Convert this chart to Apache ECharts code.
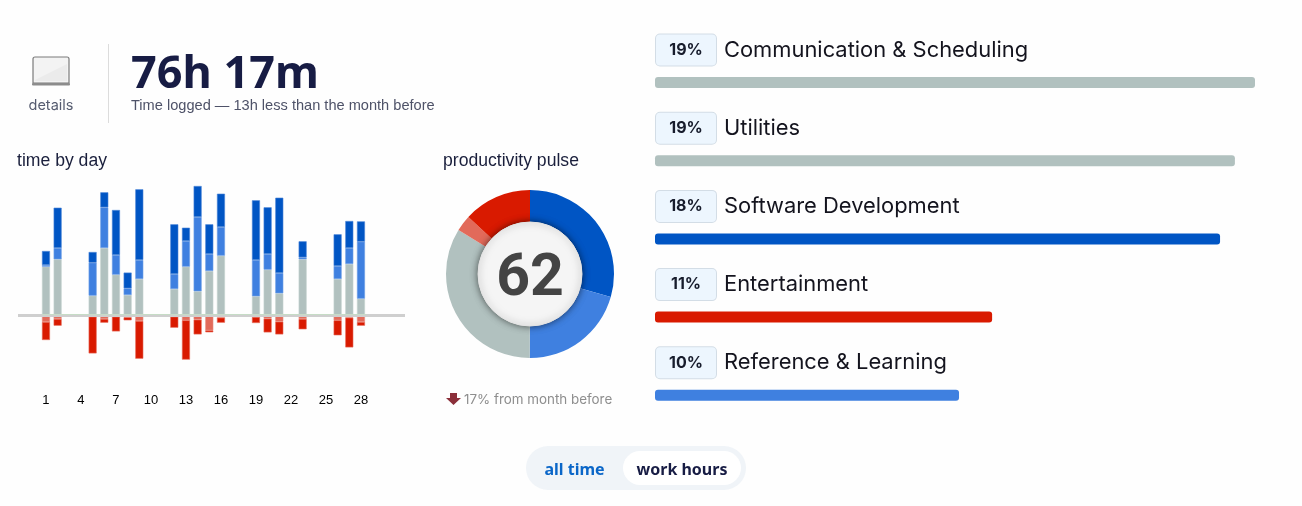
<!DOCTYPE html>
<html>
<head>
<meta charset="utf-8">
<style>html,body{margin:0;padding:0;background:#fff}#c{width:1302px;height:506px}</style>
<script src="https://cdn.jsdelivr.net/npm/echarts@6/dist/echarts.min.js"></script>
</head>
<body>
<div id="c"></div>
<script>
const days = [1,2,5,6,7,8,9,12,13,14,15,16,19,20,21,23,26,27,28];
const neutralTime  = [48.3,55.7,19.3,67,40.3,20,36,26,48.3,23.7,44,59.3,18.7,45.3,21.7,55.7,36,51,16.3];
const productive   = [1.7,11.3,33,40.7,19.7,6.7,19,15,25.7,74.3,17,28.7,36.3,15.7,20.3,2,13,16,57];
const veryProductive = [14,40.3,10.7,15,45,15.7,70.7,49.7,13.3,31,29.7,33.3,59.7,46.7,75.3,16,31.7,27,20.3];
const distracting  = [-7,-4,-1.7,-4,-1.7,-2.3,-6,-1.7,-5.3,-4.7,-15.3,-2.7,-2,-3.7,-6.7,-4,-5.3,-2.7,-7];
const veryDistracting = [-18,-6.7,-36.7,-3.7,-14.7,-3,-37.7,-11,-39.3,-14.7,-2,-5,-6,-13.7,-12.7,-10.3,-15,-29.7,-3.7];
const dayTicks = ['1','4','7','10','13','16','19','22','25','28'];

const pulseNames = ['Very productive','Productive','Neutral','Distracting','Very distracting'];
const pulseValues = [29.4,20.6,33.7,3.1,13.1];
const pulseScore = '62';

const activityNames = ['Communication & Scheduling','Utilities','Software Development','Entertainment','Reference & Learning'];
const activityValues = [19.4,18.75,18.27,10.9,9.83];
const activityLabels = ['19%','19%','18%','11%','10%'];

const C = {dark:'#0055c4', blue:'#3f80e0', gray:'#b1c1bf', red:'#d91a00', lred:'#e26a5a', ink:'#171c44'};
const activityColors = [C.gray,C.gray,C.dark,C.red,C.blue];

// category axis: two empty bands before day 1, three after day 28
const dayCats = ['','' ];
for (let d = 1; d <= 28; d++) dayCats.push(String(d));
dayCats.push(' ','  ','   ');
const onAxis = arr => {
  const out = dayCats.map(() => null);
  days.forEach((d, i) => { out[dayCats.indexOf(String(d))] = arr[i]; });
  return out;
};
const stackSeries = (name, arr, color, border) => ({
  type:'bar', name, stack:'day', xAxisIndex:0, yAxisIndex:0, barWidth:8,
  data:onAxis(arr), silent:true,
  itemStyle:{color, borderColor:border, borderWidth:0.6, opacity:1}
});

const chart = echarts.init(document.getElementById('c'), null, {renderer:'canvas'});
chart.setOption({
  animation:false,
  backgroundColor:'#fefefe',
  grid:[
    {left:16.8, top:180, width:385, height:190},
    {left:655, top:43.4, width:600, height:391}
  ],
  xAxis:[
    {type:'category', gridIndex:0, data:dayCats, position:'bottom',
     axisLine:{show:false}, axisTick:{show:false}, splitLine:{show:false},
     axisLabel:{interval:(i,v)=>dayTicks.includes(v), color:'#000', fontSize:13, fontFamily:'Liberation Sans', margin:24}},
    {type:'value', gridIndex:1, min:0, max:19.4, show:false}
  ],
  yAxis:[
    {type:'value', gridIndex:0, min:-55, max:135, show:false},
    {type:'category', gridIndex:1, data:activityNames, inverse:true, show:false}
  ],
  series:[
    stackSeries('Neutral', neutralTime, C.gray, '#c4d1cf'),
    stackSeries('Productive', productive, C.blue, '#6d9de6'),
    stackSeries('Very productive', veryProductive, C.dark, '#4a85d6'),
    stackSeries('Distracting', distracting, C.lred, '#e98a7e'),
    stackSeries('Very distracting', veryDistracting, C.red, '#e66a58'),
    {type:'pie', center:[530,274], radius:[52,84], startAngle:90, silent:true, z:2,
     label:{show:false}, labelLine:{show:false},
     data:pulseNames.map((n,i)=>({name:n, value:pulseValues[i],
       itemStyle:{color:[C.dark,C.blue,C.gray,C.lred,C.red][i]}}))},
    {type:'pie', center:[530,274], radius:[0,52], silent:true, z:3,
     data:[{name:'score', value:1}],
     itemStyle:{color:'#f5f5f5', borderColor:'#e4e4e4', borderWidth:1, shadowBlur:7, shadowColor:'rgba(0,0,0,0.55)'},
     label:{show:false}, labelLine:{show:false}},
    {type:'bar', xAxisIndex:1, yAxisIndex:1, barWidth:11,
     silent:true,
     data:activityValues.map((v,i)=>({value:v, itemStyle:{color:activityColors[i], borderRadius:3}})),
     label:{show:true, position:[1,-43], align:'left', verticalAlign:'top',
       formatter:p=>`{b|${activityLabels[p.dataIndex]}}{n|${p.name}}`,
       rich:{
         b:{width:60, height:31, lineHeight:32, align:'center', backgroundColor:'#edf6fe', borderColor:'#d3dde6', borderWidth:1, borderRadius:4,
            fontFamily:'Inter', fontWeight:700, fontSize:16, color:'#171c2c'},
         n:{padding:[0,0,0,8], fontFamily:'Inter', fontSize:21.9, color:'#14141e', lineHeight:32}
       }}}
  ],
  graphic:[
    // pulse score
    {type:'text', z:20, style:{text:pulseScore,x:530,y:280,align:'center',verticalAlign:'middle',font:'700 59px Roboto',fill:'#444'}},
    // baseline of the daily chart
    {type:'rect', z:100, shape:{x:18,y:314,width:387,height:3}, style:{fill:'#cfcfcf'}},
    {type:'rect', z:101, shape:{x:42,y:314,width:324,height:1}, style:{fill:'#c6dcc6'}},
    // laptop icon
    {type:'rect', z:10, shape:{x:33,y:57,width:36,height:26,r:[2,2,0,0]}, style:{fill:'#f3f3f3',stroke:'#7b7b7b',lineWidth:1.2}},
    {type:'polygon', z:11, shape:{points:[[35,80],[67,64],[67,81],[35,81]]}, style:{fill:'#ebebeb'}},
    {type:'rect', z:12, shape:{x:32,y:83,width:38,height:2.5,r:1}, style:{fill:'#8c8c8c'}},
    {type:'text', z:10, style:{text:'details',x:51,y:105.5,align:'center',verticalAlign:'middle',font:'14.5px Inter',fill:'#565c70'}},
    // divider
    {type:'rect', z:10, shape:{x:108,y:44,width:1,height:79}, style:{fill:'#dcdcdc'}},
    // headline
    {type:'text', z:10, style:{text:'76h 17m',x:131,y:75,align:'left',verticalAlign:'middle',font:'700 45px "Noto Sans"',fill:C.ink}},
    {type:'text', z:10, style:{text:'Time logged \u2014 13h less than the month before',x:131,y:105.5,align:'left',verticalAlign:'middle',font:'14.6px "Liberation Sans"',fill:'#4e5268'}},
    // section titles
    {type:'text', z:10, style:{text:'time by day',x:17,y:161,align:'left',verticalAlign:'middle',font:'17.6px "Liberation Sans"',fill:'#1a1f3c'}},
    {type:'text', z:10, style:{text:'productivity pulse',x:443,y:161,align:'left',verticalAlign:'middle',font:'17.6px "Liberation Sans"',fill:'#1a1f3c'}},
    // pulse change
    {type:'polygon', z:10, shape:{points:[[450,393],[457,393],[457,398],[461,398],[453.5,405],[446,398],[450,398]]}, style:{fill:'#8b2f3a'}},
    {type:'text', z:10, style:{text:'17% from month before',x:464,y:399.5,align:'left',verticalAlign:'middle',font:'13.4px Inter',fill:'#8e8e8e'}},
    // toggle
    {type:'rect', z:10, shape:{x:526,y:446,width:220,height:44,r:22}, style:{fill:'#f0f4f8'}},
    {type:'rect', z:11, shape:{x:623,y:451,width:118,height:34,r:17}, style:{fill:'#ffffff'}},
    {type:'text', z:12, style:{text:'all time',x:574.5,y:470,align:'center',verticalAlign:'middle',font:'700 16px "Noto Sans"',fill:'#0a66c8'}},
    {type:'text', z:12, style:{text:'work hours',x:682,y:470,align:'center',verticalAlign:'middle',font:'700 16px "Noto Sans"',fill:C.ink}}
  ]
});
</script>
</body>
</html>
